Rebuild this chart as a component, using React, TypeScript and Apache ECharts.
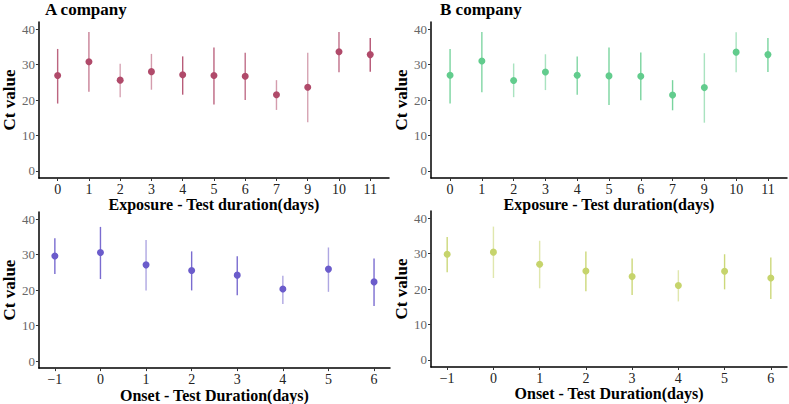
import React, { useEffect, useRef } from "react";
import * as echarts from "echarts";

// Exposure - Test duration categories (days)
const expCats = ["0", "1", "2", "3", "4", "5", "6", "7", "9", "10", "11"];
// A company, exposure
const aExpCt = [26.9, 30.8, 25.6, 28.0, 27.1, 26.9, 26.7, 21.5, 23.6, 33.6, 32.8];
const aExpLo = [19.0, 22.3, 20.8, 22.9, 21.5, 18.7, 20.0, 17.2, 13.7, 27.8, 28.0];
const aExpHi = [34.4, 39.2, 30.2, 33.0, 32.3, 34.8, 33.3, 25.6, 33.3, 39.2, 37.5];
// B company, exposure
const bExpCt = [27.0, 31.0, 25.5, 27.9, 27.0, 26.8, 26.7, 21.4, 23.5, 33.5, 32.8];
const bExpLo = [19.0, 22.2, 20.8, 22.8, 21.5, 18.6, 19.9, 17.1, 13.6, 27.8, 27.9];
const bExpHi = [34.4, 39.2, 30.3, 32.9, 32.3, 34.8, 33.4, 25.6, 33.2, 39.1, 37.5];

// Onset - Test duration (days)
const onsetDays = [-1, 0, 1, 2, 3, 4, 5, 6];
const aOnCt = [29.6, 30.6, 27.1, 25.5, 24.2, 20.3, 25.9, 22.3];
const aOnLo = [24.5, 23.1, 19.9, 19.9, 18.5, 16.1, 19.5, 15.5];
const aOnHi = [34.6, 37.8, 34.1, 30.9, 29.5, 24.0, 32.0, 28.9];
const bOnCt = [29.8, 30.4, 27.0, 25.1, 23.5, 21.0, 25.0, 23.1];
const bOnLo = [24.7, 23.1, 20.2, 19.4, 18.3, 16.5, 19.9, 17.2];
const bOnHi = [34.7, 37.6, 33.6, 30.6, 28.6, 25.3, 29.8, 28.9];

const yTicks = [0, 10, 20, 30, 40];
const onsetTicks = [-1, 0, 1, 2, 3, 4, 5, 6];

// error-bar opacity (visual overlap strength)
const aExpAlpha = [0.85, 0.7, 0.5, 0.55, 0.9, 0.85, 0.8, 0.55, 0.5, 0.8, 0.95];
const bExpAlpha = [0.85, 0.8, 0.55, 0.55, 0.8, 0.85, 0.85, 0.85, 0.55, 0.55, 0.85];
const aOnAlpha = [0.9, 0.9, 0.55, 0.9, 0.9, 0.55, 0.55, 0.9];
const bOnAlpha = [0.9, 0.55, 0.55, 0.9, 0.9, 0.55, 0.9, 0.9];

const SERIF = "Liberation Serif";

type Panel = {
  xs: number[];
  ct: number[];
  lo: number[];
  hi: number[];
  alpha: number[];
  color: string;
  grid: { left: number; top: number; width: number; height: number };
  kind: "exp" | "onset";
};

const panels: Panel[] = [
  {
    xs: expCats.map((_, i) => i),
    ct: aExpCt, lo: aExpLo, hi: aExpHi, alpha: aExpAlpha,
    color: "#B04A6A",
    grid: { left: 35, top: 22, width: 354, height: 156 },
    kind: "exp",
  },
  {
    xs: expCats.map((_, i) => i),
    ct: bExpCt, lo: bExpLo, hi: bExpHi, alpha: bExpAlpha,
    color: "#62CC8D",
    grid: { left: 431, top: 22, width: 356, height: 156 },
    kind: "exp",
  },
  {
    xs: onsetDays,
    ct: aOnCt, lo: aOnLo, hi: aOnHi, alpha: aOnAlpha,
    color: "#6B5CCB",
    grid: { left: 34, top: 212, width: 356, height: 157 },
    kind: "onset",
  },
  {
    xs: onsetDays,
    ct: bOnCt, lo: bOnLo, hi: bOnHi, alpha: bOnAlpha,
    color: "#C6D46C",
    grid: { left: 431, top: 211, width: 356, height: 156 },
    kind: "onset",
  },
];

function buildOption() {
  const grids = panels.map((p) => ({ ...p.grid, containLabel: false }));
  const axisLine = { show: true, onZero: false, lineStyle: { color: "#000", width: 1.5 } };
  const axisTickBase = { show: true, length: 3, lineStyle: { color: "#333", width: 1 } };
  const nameStyle = { fontFamily: SERIF, fontSize: 16, fontWeight: "bold" as const, color: "#000" };

  const xAxes = panels.map((p, gi) => {
    const isExp = p.kind === "exp";
    const ticks = isExp ? expCats.map((_, i) => i) : onsetTicks;
    return {
      type: "value",
      gridIndex: gi,
      min: isExp ? -0.6 : -1.35,
      max: isExp ? 10.6 : 6.35,
      axisLine,
      axisTick: { ...axisTickBase, customValues: ticks },
      axisLabel: {
        fontFamily: SERIF,
        fontSize: 14,
        color: "#222",
        margin: 4,
        customValues: ticks,
        formatter: (v: number) =>
          isExp ? expCats[Math.round(v)] : v < 0 ? "\u2212" + Math.abs(v) : String(v),
      },
      splitLine: { show: false },
      name: isExp ? "Exposure - Test duration(days)" : "Onset - Test Duration(days)",
      nameLocation: "middle",
      nameGap: 18,
      nameTextStyle: nameStyle,
    };
  });

  const yAxes = panels.map((_, gi) => ({
    type: "value",
    gridIndex: gi,
    min: -2,
    max: 42,
    axisLine,
    axisTick: { ...axisTickBase, customValues: yTicks },
    axisLabel: { fontFamily: SERIF, fontSize: 13, color: "#666", margin: 4, customValues: yTicks },
    splitLine: { show: false },
    name: "Ct value",
    nameLocation: "middle",
    nameGap: 19,
    nameTextStyle: { ...nameStyle, fontSize: 17 },
  }));

  const series: any[] = [];
  panels.forEach((p, gi) => {
    const color = p.color;
    series.push({
      type: "custom",
      xAxisIndex: gi,
      yAxisIndex: gi,
      data: p.xs.map((x, i) => [x, p.lo[i], p.hi[i], p.alpha[i]]),
      encode: { x: 0, y: [1, 2] },
      renderItem: (params: any, api: any) => {
        const x = api.value(0);
        const a = api.coord([x, api.value(1)]);
        const b = api.coord([x, api.value(2)]);
        return {
          type: "line",
          shape: { x1: a[0], y1: a[1], x2: b[0], y2: b[1] },
          style: { stroke: color, lineWidth: 1.4, opacity: api.value(3) },
        };
      },
      silent: true,
      z: 2,
    });
    series.push({
      type: "scatter",
      xAxisIndex: gi,
      yAxisIndex: gi,
      data: p.xs.map((x, i) => [x, p.ct[i]]),
      symbol: "circle",
      symbolSize: 7,
      itemStyle: { color, opacity: 1 },
      silent: true,
      z: 3,
    });
  });

  return {
    animation: false,
    backgroundColor: "#fff",
    title: [
      {
        text: "A company",
        left: 45,
        top: 1,
        padding: 0,
        textStyle: { fontFamily: SERIF, fontSize: 17, fontWeight: "bold", color: "#000" },
      },
      {
        text: "B company",
        left: 440,
        top: 1,
        padding: 0,
        textStyle: { fontFamily: SERIF, fontSize: 17, fontWeight: "bold", color: "#000" },
      },
    ],
    grid: grids,
    xAxis: xAxes,
    yAxis: yAxes,
    series,
  };
}

export default function App() {
  const ref = useRef<HTMLDivElement>(null);
  useEffect(() => {
    if (!ref.current) return;
    const chart = echarts.init(ref.current, undefined, { renderer: "svg" });
    chart.setOption(buildOption() as any);
    return () => chart.dispose();
  }, []);
  return (
    <div
      ref={ref}
      style={{ position: "fixed", left: 0, top: 0, width: 789, height: 404, background: "#fff" }}
    />
  );
}
